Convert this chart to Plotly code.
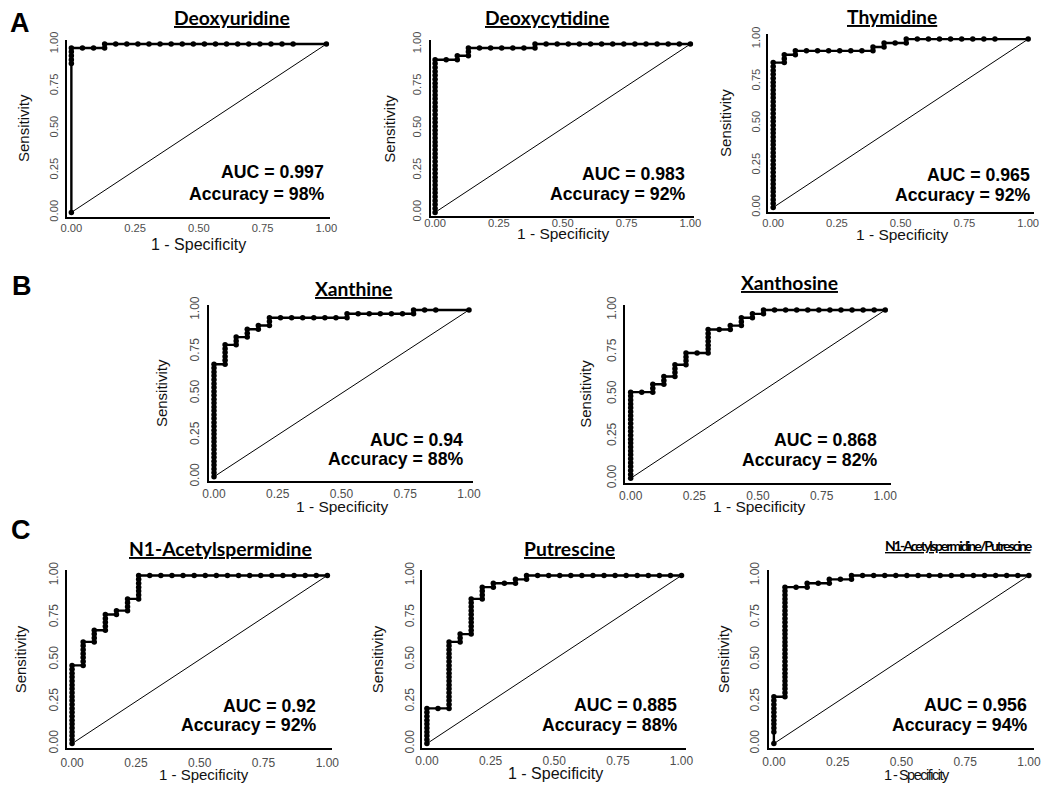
import plotly.graph_objects as go

# ---------------- data ----------------
N_NEG = 23   # controls -> 1 - specificity denominator
N_POS = 43   # cases    -> sensitivity denominator

titles = ["Deoxyuridine", "Deoxycytidine", "Thymidine", "Xanthine", "Xanthosine",
          "N1-Acetylspermidine", "Putrescine", "N1-Acetylspermidine/Putrescine"]
auc_labels = ["AUC = 0.997", "AUC = 0.983", "AUC = 0.965", "AUC = 0.94", "AUC = 0.868",
              "AUC = 0.92", "AUC = 0.885", "AUC = 0.956"]
acc_labels = ["Accuracy = 98%", "Accuracy = 92%", "Accuracy = 92%", "Accuracy = 88%",
              "Accuracy = 82%", "Accuracy = 92%", "Accuracy = 88%", "Accuracy = 94%"]
panel_letters = ["A", "B", "C"]
tick_vals = [0, 0.25, 0.5, 0.75, 1.0]
tick_text = ["0.00", "0.25", "0.50", "0.75", "1.00"]
x_title = "1 - Specificity"
y_title = "Sensitivity"
chance_x = [0, 1]
chance_y = [0, 1]

# ROC threshold points as (false-positive count, true-positive count)
fp_deoxyuridine = [0, 0, 0, 0, 0, 0,
                   1, 2, 3, 3,
                   4, 5, 6, 7, 8, 9, 10, 11, 12, 13, 14, 15, 16, 17, 18, 19, 20, 23]
tp_deoxyuridine = [0, 38, 39, 40, 41, 42,
                   42, 42, 42, 43,
                   43, 43, 43, 43, 43, 43, 43, 43, 43, 43, 43, 43, 43, 43, 43, 43, 43, 43]

fp_deoxycytidine = [0, 0, 0, 0, 0, 0, 0, 0, 0, 0, 0, 0, 0, 0, 0, 0, 0, 0, 0, 0,
                    0, 0, 0, 0, 0, 0, 0, 0, 0, 0, 0, 0, 0, 0, 0, 0, 0, 0, 0, 0,
                    1, 2, 2, 3, 3, 3, 4, 5, 6, 7, 8, 9, 9,
                    10, 11, 12, 13, 14, 15, 16, 17, 18, 19, 20, 21, 22, 23]
tp_deoxycytidine = [0, 1, 2, 3, 4, 5, 6, 7, 8, 9, 10, 11, 12, 13, 14, 15, 16, 17, 18, 19,
                    20, 21, 22, 23, 24, 25, 26, 27, 28, 29, 30, 31, 32, 33, 34, 35, 36, 37, 38, 39,
                    39, 39, 40, 40, 41, 42, 42, 42, 42, 42, 42, 42, 43,
                    43, 43, 43, 43, 43, 43, 43, 43, 43, 43, 43, 43, 43, 43]

fp_thymidine = [0, 0, 0, 0, 0, 0, 0, 0, 0, 0, 0, 0, 0, 0, 0, 0, 0, 0, 0, 0,
                0, 0, 0, 0, 0, 0, 0, 0, 0, 0, 0, 0, 0, 0, 0, 0, 0, 0,
                1, 1, 1, 2, 2, 3, 4, 5, 6, 7, 8, 9, 9, 10, 10, 11, 12, 12,
                13, 14, 15, 16, 17, 18, 19, 20, 23]
tp_thymidine = [0, 1, 2, 3, 4, 5, 6, 7, 8, 9, 10, 11, 12, 13, 14, 15, 16, 17, 18, 19,
                20, 21, 22, 23, 24, 25, 26, 27, 28, 29, 30, 31, 32, 33, 34, 35, 36, 37,
                37, 38, 39, 39, 40, 40, 40, 40, 40, 40, 40, 40, 41, 41, 42, 42, 42, 43,
                43, 43, 43, 43, 43, 43, 43, 43, 43]

fp_xanthine = [0, 0, 0, 0, 0, 0, 0, 0, 0, 0, 0, 0, 0, 0, 0, 0, 0, 0, 0, 0,
               0, 0, 0, 0, 0, 0, 0, 0, 0, 0,
               1, 1, 1, 1, 1, 1, 2, 2, 2, 3, 3, 3, 4, 4, 5, 5, 5,
               6, 7, 8, 9, 10, 11, 12, 12, 13, 14, 15, 16, 17, 18, 18, 19, 20, 23]
tp_xanthine = [0, 1, 2, 3, 4, 5, 6, 7, 8, 9, 10, 11, 12, 13, 14, 15, 16, 17, 18, 19,
               20, 21, 22, 23, 24, 25, 26, 27, 28, 29,
               29, 30, 31, 32, 33, 34, 34, 35, 36, 36, 37, 38, 38, 39, 39, 40, 41,
               41, 41, 41, 41, 41, 41, 41, 42, 42, 42, 42, 42, 42, 42, 43, 43, 43, 43]

fp_xanthosine = [0, 0, 0, 0, 0, 0, 0, 0, 0, 0, 0, 0, 0, 0, 0, 0, 0, 0, 0, 0,
                 0, 0, 0,
                 1, 2, 2, 2, 3, 3, 3, 4, 4, 4, 4, 5, 5, 5, 5, 6,
                 7, 7, 7, 7, 7, 7, 7, 8, 9, 9, 10, 10, 10, 11, 11, 12, 12,
                 13, 14, 15, 16, 17, 18, 19, 20, 21, 22, 23]
tp_xanthosine = [0, 1, 2, 3, 4, 5, 6, 7, 8, 9, 10, 11, 12, 13, 14, 15, 16, 17, 18, 19,
                 20, 21, 22,
                 22, 22, 23, 24, 24, 25, 26, 26, 27, 28, 29, 29, 30, 31, 32, 32,
                 32, 33, 34, 35, 36, 37, 38, 38, 38, 39, 39, 40, 41, 41, 42, 42, 43,
                 43, 43, 43, 43, 43, 43, 43, 43, 43, 43, 43]

fp_acetylspermidine = [0, 0, 0, 0, 0, 0, 0, 0, 0, 0, 0, 0, 0, 0, 0, 0, 0, 0, 0, 0,
                       0,
                       1, 1, 1, 1, 1, 1, 1, 2, 2, 2, 2, 3, 3, 3, 3, 3, 4, 4, 5, 5, 5, 5,
                       6, 6, 6, 6, 6, 6, 6,
                       7, 8, 9, 10, 11, 12, 13, 14, 15, 16, 17, 18, 19, 20, 21, 22, 23]
tp_acetylspermidine = [0, 1, 2, 3, 4, 5, 6, 7, 8, 9, 10, 11, 12, 13, 14, 15, 16, 17, 18, 19,
                       20,
                       20, 21, 22, 23, 24, 25, 26, 26, 27, 28, 29, 29, 30, 31, 32, 33, 33, 34, 34, 35, 36, 37,
                       37, 38, 39, 40, 41, 42, 43,
                       43, 43, 43, 43, 43, 43, 43, 43, 43, 43, 43, 43, 43, 43, 43, 43, 43]

fp_putrescine = [0, 0, 0, 0, 0, 0, 0, 0, 0, 0,
                 1, 2, 2, 2, 2, 2, 2, 2, 2, 2, 2, 2, 2, 2, 2, 2, 2, 2, 2,
                 3, 3, 3, 4, 4, 4, 4, 4, 4, 4, 4, 4, 4, 5, 5, 5, 5, 6, 6, 7, 8, 8, 9, 9,
                 10, 11, 12, 13, 14, 15, 16, 17, 18, 19, 20, 21, 22, 23]
tp_putrescine = [0, 1, 2, 3, 4, 5, 6, 7, 8, 9,
                 9, 9, 10, 11, 12, 13, 14, 15, 16, 17, 18, 19, 20, 21, 22, 23, 24, 25, 26,
                 26, 27, 28, 28, 29, 30, 31, 32, 33, 34, 35, 36, 37, 37, 38, 39, 40, 40, 41, 41, 41, 42, 42, 43,
                 43, 43, 43, 43, 43, 43, 43, 43, 43, 43, 43, 43, 43, 43]

fp_ratio = [0, 0, 0, 0, 0, 0, 0, 0, 0, 0, 0,
            1, 1, 1, 1, 1, 1, 1, 1, 1, 1, 1, 1, 1, 1, 1, 1, 1, 1, 1, 1, 1, 1, 1, 1, 1, 1, 1, 1, 1,
            2, 3, 3, 4, 5, 5, 6, 7, 7,
            8, 9, 10, 11, 12, 13, 14, 15, 16, 17, 18, 19, 20, 21, 22, 23]
tp_ratio = [0, 3, 4, 5, 6, 7, 8, 9, 10, 11, 12,
            12, 13, 14, 15, 16, 17, 18, 19, 20, 21, 22, 23, 24, 25, 26, 27, 28, 29, 30, 31, 32, 33, 34, 35, 36, 37, 38, 39, 40,
            40, 40, 41, 41, 41, 42, 42, 42, 43,
            43, 43, 43, 43, 43, 43, 43, 43, 43, 43, 43, 43, 43, 43, 43, 43]

fp_lists = [fp_deoxyuridine, fp_deoxycytidine, fp_thymidine, fp_xanthine, fp_xanthosine,
            fp_acetylspermidine, fp_putrescine, fp_ratio]
tp_lists = [tp_deoxyuridine, tp_deoxycytidine, tp_thymidine, tp_xanthine, tp_xanthosine,
            tp_acetylspermidine, tp_putrescine, tp_ratio]

# ---------------- layout ----------------
W, H = 1050, 797


def paper_x(p):
    return p / W


def paper_y(p):
    return 1 - p / H


# panel geometry in pixels:
# L,R x-axis line ends; T,B y-axis line ends; x0,x1 pixel of 0/1 on x; y0,y1 pixel of 0/1 on y
geo = [
    dict(L=61, R=328, T=31.7, B=211.7, x0=65.3, x1=324.0, y0=207.3, y1=35.7),
    dict(L=430, R=697, T=31.7, B=210.7, x0=434.3, x1=693.3, y0=207.3, y1=35.7),
    dict(L=771.7, R=1041.7, T=25.0, B=206.7, x0=777.3, x1=1036.0, y0=202.3, y1=30.7),
    dict(L=205, R=473, T=301.7, B=480.7, x0=210.0, x1=468.7, y0=476.7, y1=306.7),
    dict(L=627.3, R=896.7, T=301.7, B=482.7, x0=632.7, x1=891.0, y0=478.3, y1=306.7),
    dict(L=61, R=330, T=571.7, B=753.3, x0=66.0, x1=325.0, y0=748.7, y1=577.3),
    dict(L=420.7, R=689.3, T=571.7, B=753.3, x0=426.0, x1=684.3, y0=748.7, y1=577.3),
    dict(L=772.7, R=1041.7, T=571.7, B=753.3, x0=778.0, x1=1036.7, y0=748.7, y1=577.3),
]
ARIAL = "Liberation Sans, Arial, sans-serif"
TITLE_FONT = "Lato, Calibri, sans-serif"
txt = [
    dict(tx=228.3, ty=9.0, ts=19.3, tls=0, sr=324, sa=166, sb=188.5, xt=194, xty=240.5, xs=16, xls=0, yt=16, tk=11.2, xso=0, yso=3),
    dict(tx=548.0, ty=9.0, ts=19.3, tls=0, sr=690, sa=167.8, sb=189, xt=564, xty=228.5, xs=15.5, xls=0, yt=388, tk=11.2, xso=-4, yso=3),
    dict(tx=898.3, ty=8.0, ts=19.3, tls=0, sr=1040, sa=169, sb=189.7, xt=907.5, xty=230, xs=15.5, xls=0, yt=729, tk=11.2, xso=0, yso=1),
    dict(tx=352.0, ty=285.0, ts=19.3, tls=0, sr=465, sa=439, sb=459, xt=340, xty=507, xs=15.5, xls=0, yt=157, tk=12, xso=1, yso=3),
    dict(tx=794.2, ty=279.0, ts=19.3, tls=0, sr=885, sa=439.5, sb=459.5, xt=763, xty=507, xs=15.5, xls=0, yt=586, tk=12, xso=1, yso=2),
    dict(tx=216.7, ty=550.0, ts=19.3, tls=0, sr=315, sa=710.8, sb=730, xt=200, xty=780.5, xs=15, xls=0, yt=14, tk=12, xso=2, yso=2),
    dict(tx=570.5, ty=550.0, ts=19.3, tls=0, sr=681.7, sa=709.5, sb=730, xt=556, xty=779, xs=16, xls=0, yt=376, tk=12, xso=0, yso=1),
    dict(tx=965.8, ty=547.0, ts=14, tls=-2.0, sr=1036.7, sa=709.5, sb=730, xt=923, xty=780.5, xs=14.5, xls=-1.5, yt=727, tk=12, xso=1, yso=3),
]
letters_pos = [(1, 14), (3, 282), (2, 531)]
LETTER_SIZE = 27

fig = go.Figure()
layout = dict(width=W, height=H, margin=dict(l=0, r=0, t=0, b=0),
              paper_bgcolor="white", plot_bgcolor="white", showlegend=False)
annotations = []


def spaced(s, ls):
    if ls == 0:
        return s
    return '<span style="letter-spacing:%.1fpx">%s</span>' % (ls, s)


for i in range(8):
    g = geo[i]
    t = txt[i]
    sx = "" if i == 0 else str(i + 1)
    xs_ = [f / N_NEG for f in fp_lists[i]]
    ys_ = [v / N_POS for v in tp_lists[i]]
    fig.add_trace(go.Scatter(x=chance_x, y=chance_y, mode="lines",
                             line=dict(color="black", width=1.0),
                             xaxis="x" + sx, yaxis="y" + sx, hoverinfo="skip"))
    fig.add_trace(go.Scatter(x=xs_, y=ys_, mode="lines+markers",
                             line=dict(color="black", width=2.4),
                             marker=dict(color="black", size=5.5),
                             cliponaxis=False,
                             xaxis="x" + sx, yaxis="y" + sx))
    dx = g["x1"] - g["x0"]
    dy = g["y0"] - g["y1"]
    xr = [(g["L"] - g["x0"]) / dx, (g["R"] - g["x0"]) / dx]
    yr = [(g["y0"] - g["B"]) / dy, (g["y0"] - g["T"]) / dy]
    layout["xaxis" + sx] = dict(domain=[paper_x(g["L"]), paper_x(g["R"])], range=xr,
                                anchor="y" + sx, showgrid=False, zeroline=False,
                                showline=True, linecolor="black", linewidth=2.2,
                                ticks="", tickvals=tick_vals, ticktext=tick_text,
                                tickfont=dict(family=ARIAL, size=t["tk"], color="#4d4d4d"),
                                ticklabelstandoff=t["xso"], fixedrange=True)
    layout["yaxis" + sx] = dict(domain=[paper_y(g["B"]), paper_y(g["T"])], range=yr,
                                anchor="x" + sx, showgrid=False, zeroline=False,
                                showline=True, linecolor="black", linewidth=2.2,
                                ticks="", tickvals=tick_vals, ticktext=tick_text,
                                tickangle=-90,
                                tickfont=dict(family=ARIAL, size=t["tk"], color="#4d4d4d"),
                                ticklabelstandoff=t["yso"], fixedrange=True)
    annotations.append(dict(text="<b><u>" + spaced(titles[i], t["tls"]) + "</u></b>",
                            xref="paper", yref="paper",
                            x=paper_x(t["tx"]), y=paper_y(t["ty"]), xanchor="center", yanchor="middle",
                            showarrow=False, font=dict(family=TITLE_FONT, size=t["ts"], color="black")))
    annotations.append(dict(text="<b>" + auc_labels[i] + "</b>", xref="paper", yref="paper",
                            x=paper_x(t["sr"]), y=paper_y(t["sa"]), xanchor="right", yanchor="middle",
                            showarrow=False, font=dict(family=ARIAL, size=17.7, color="black")))
    annotations.append(dict(text="<b>" + acc_labels[i] + "</b>", xref="paper", yref="paper",
                            x=paper_x(t["sr"]), y=paper_y(t["sb"]), xanchor="right", yanchor="middle",
                            showarrow=False, font=dict(family=ARIAL, size=17.7, color="black")))
    annotations.append(dict(text=spaced(x_title, t["xls"]), xref="paper", yref="paper",
                            x=paper_x(t["xt"]), y=paper_y(t["xty"]), xanchor="center", yanchor="middle",
                            showarrow=False, font=dict(family=ARIAL, size=t["xs"], color="#111111")))
    annotations.append(dict(text=y_title, xref="paper", yref="paper", textangle=-90,
                            x=paper_x(t["yt"]), y=paper_y((g["y0"] + g["y1"]) / 2),
                            xanchor="center", yanchor="middle",
                            showarrow=False, font=dict(family=ARIAL, size=15, color="#111111")))

for k, (lx, ly) in enumerate(letters_pos):
    annotations.append(dict(text="<b>" + panel_letters[k] + "</b>", xref="paper", yref="paper",
                            x=paper_x(lx), y=paper_y(ly), xanchor="left", yanchor="middle",
                            showarrow=False, font=dict(family=ARIAL, size=LETTER_SIZE, color="black")))

layout["annotations"] = annotations
fig.update_layout(**layout)
fig.write_html("out.html", config={"displayModeBar": False},
               post_script="document.documentElement.style.margin='0';"
                           "document.body.style.margin='0';")
